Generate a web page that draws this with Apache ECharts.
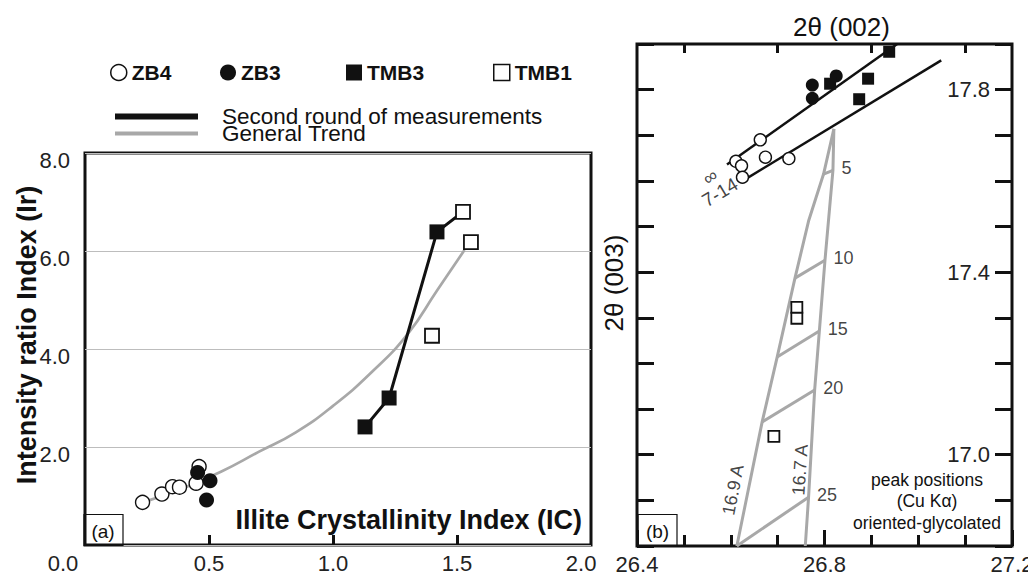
<!DOCTYPE html>
<html>
<head>
<meta charset="utf-8">
<script src="https://cdn.jsdelivr.net/npm/echarts@6/dist/echarts.min.js"></script>
<style>
  html, body { margin: 0; padding: 0; background: #fff; }
  #chart { width: 1028px; height: 577px; }
</style>
</head>
<body>
<div id="chart"></div>
<script>
// ---------- Panel (a): Illite Crystallinity Index (IC) vs Intensity ratio Index (Ir) ----------
const zb4IC   = [[0.232, 0.87], [0.310, 1.04], [0.353, 1.19], [0.381, 1.18], [0.448, 1.26], [0.460, 1.60]];
const zb3IC   = [[0.454, 1.48], [0.504, 1.31], [0.490, 0.92]];
const tmb3IC  = [[1.129, 2.41], [1.226, 3.00], [1.419, 6.39]];
const tmb1IC  = [[1.524, 6.80], [1.556, 6.18], [1.399, 4.27]];
const secondRoundIC = [[1.129, 2.41], [1.226, 3.00], [1.419, 6.39], [1.524, 6.80]];
const trendIC = [[0.24, 0.88], [0.40, 1.17], [0.55, 1.50], [0.70, 1.90], [0.85, 2.30], [1.00, 2.84],
                 [1.15, 3.50], [1.30, 4.30], [1.42, 5.20], [1.53, 6.02]];
const icTickLabels = [0, 0.5, 1.0, 1.5, 2.0];
const irTickLabels = [2, 4, 6, 8];

// ---------- Panel (b): peak positions 2θ(002) vs 2θ(003) ----------
const zb4Peak  = [[26.663, 17.690], [26.611, 17.643], [26.623, 17.633], [26.625, 17.608], [26.674, 17.652], [26.724, 17.649]];
const zb3Peak  = [[26.774, 17.810], [26.774, 17.781], [26.825, 17.830]];
const tmb3Peak = [[26.812, 17.813], [26.893, 17.824], [26.874, 17.779], [26.938, 17.883]];
const tmb1Peak = [[26.741, 17.323], [26.741, 17.299], [26.692, 17.040]];
const lineInf  = [[26.592, 17.636], [26.955, 17.900]];
const line714  = [[26.622, 17.598], [27.049, 17.864]];
const curve169 = [[26.820, 17.714], [26.798, 17.615], [26.766, 17.512], [26.737, 17.387],
                  [26.699, 17.214], [26.667, 17.072], [26.613, 16.800]];
const curve167 = [[26.820, 17.714], [26.818, 17.623], [26.801, 17.426], [26.789, 17.271],
                  [26.779, 17.142], [26.766, 16.907], [26.759, 16.800]];
const rungNames = ['5', '10', '15', '20', '25'];
const rungLeft  = [[26.798, 17.615], [26.737, 17.387], [26.699, 17.214], [26.667, 17.072], [26.613, 16.800]];
const rungRight = [[26.818, 17.623], [26.801, 17.426], [26.789, 17.271], [26.779, 17.142], [26.766, 16.907]];
const curveNames  = ['16.9 A', '16.7 A'];
const curveNameAt = [[26.605, 16.923], [26.748, 16.967]];
const curveNameAngle = [79, 86];
const lineNames  = ['\u221E', '7-14'];
const lineNameAt = [[26.556, 17.609], [26.577, 17.575]];
const lineNameAngle = [35, 31];
const peakLabels = [26.4, 26.8, 27.2];
const peakRightLabels = [17.0, 17.4, 17.8];

// ---------- styling ----------
const FONT = '"Liberation Sans", Arial, Helvetica, sans-serif';
const INK = '#111';
const LABEL = '#222';
const GREY = '#a8a8a8';
const fmt1 = v => Number(v).toFixed(1);
const tickStyle = { color: INK, width: 3 };

const openCircle = size => ({ symbol: 'circle', symbolSize: size, itemStyle: { color: '#fff', borderColor: INK, borderWidth: 1.4, opacity: 1 } });
const fullCircle = size => ({ symbol: 'circle', symbolSize: size, itemStyle: { color: INK, opacity: 1 } });
const fullSquare = size => ({ symbol: 'rect', symbolSize: size, itemStyle: { color: INK, opacity: 1 } });
const openSquare = size => ({ symbol: 'rect', symbolSize: size, itemStyle: { color: '#fff', borderColor: INK, borderWidth: 1.8, opacity: 1 } });

const scatterA = (name, data, look) => Object.assign({ type: 'scatter', name, data, xAxisIndex: 0, yAxisIndex: 0, z: 5 }, look);
const scatterB = (name, data, look) => Object.assign({ type: 'scatter', name, data, xAxisIndex: 1, yAxisIndex: 1, z: 5 }, look);
const greyLineB = (name, data) => ({
  type: 'line', name, data, xAxisIndex: 1, yAxisIndex: 1, symbol: 'none', z: 2,
  color: GREY, lineStyle: { color: GREY, width: 3 }
});

const symbolLegend = (name, icon, left, itemStyle) => ({
  data: [{ name, icon, itemStyle }], left, top: 62, padding: 0, selectedMode: false,
  itemWidth: 16, itemHeight: 16,
  textStyle: { fontSize: 21, fontWeight: 'bold', color: INK, fontFamily: FONT }
});
const lineLegend = (name, color, top, thick) => ({
  data: [{ name, icon: 'rect', itemStyle: { color } }], left: 115, top, padding: 0, selectedMode: false,
  itemWidth: 83, itemHeight: thick,
  textStyle: { fontSize: 22.5, lineHeight: 17, color: INK, fontFamily: FONT, padding: [0, 0, 0, 19] }
});

const chart = echarts.init(document.getElementById('chart'), null, { renderer: 'svg' });

const option = {
  animation: false,
  backgroundColor: '#fff',
  textStyle: { fontFamily: FONT, color: INK },
  legend: [
    symbolLegend('ZB4', 'circle', 110, { color: '#fff', borderColor: INK, borderWidth: 1.5, opacity: 1 }),
    symbolLegend('ZB3', 'circle', 220, { color: INK, opacity: 1 }),
    symbolLegend('TMB3', 'rect', 346, { color: INK, opacity: 1 }),
    symbolLegend('TMB1', 'rect', 493, { color: '#fff', borderColor: INK, borderWidth: 1.5, opacity: 1 }),
    lineLegend('Second round of measurements', INK, 105, 6),
    lineLegend('General Trend', GREY, 122, 4)
  ],
  grid: [
    { left: 85, top: 153, width: 506, height: 392, show: true, borderColor: INK, borderWidth: 3, outerBoundsMode: 'none' },
    { left: 637, top: 44, width: 375, height: 502, show: true, borderColor: INK, borderWidth: 3, outerBoundsMode: 'none' }
  ],
  xAxis: [
    { // (a) IC axis
      type: 'value', gridIndex: 0, position: 'bottom', min: 0, max: 2.04,
      axisLine: { show: false, onZero: false },
      axisTick: { show: true, inside: true, length: 10, lineStyle: tickStyle, customValues: [0.5, 1.0, 1.5] },
      axisLabel: {
        customValues: icTickLabels, margin: 7, fontSize: 22, color: LABEL,
        formatter: v => (v === 0 ? '{o|0.0}' : fmt1(v)),
        rich: { o: { fontSize: 22, color: LABEL, padding: [0, 44, 0, 0] } }
      },
      splitLine: { show: false },
      name: 'Illite Crystallinity Index (IC)', nameLocation: 'end', nameGap: -9, nameMoveOverlap: false,
      nameTextStyle: { fontSize: 27, fontWeight: 'bold', color: INK, align: 'right', verticalAlign: 'bottom', padding: [0, 0, 12, 0] }
    },
    { // (b) 2θ(002), bottom labels
      type: 'value', gridIndex: 1, position: 'bottom', min: 26.4, max: 27.2, interval: 0.4,
      axisLine: { show: false, onZero: false },
      axisTick: { show: true, inside: true, length: 16, lineStyle: tickStyle },
      minorTick: { show: true, splitNumber: 4, length: 11, lineStyle: tickStyle },
      axisLabel: { customValues: peakLabels, margin: 7, fontSize: 22, color: LABEL, formatter: fmt1 },
      splitLine: { show: false }, minorSplitLine: { show: false }
    },
    { // (b) 2θ(002), top frame
      type: 'value', gridIndex: 1, position: 'top', min: 26.4, max: 27.2, interval: 0.1,
      axisLine: { show: false, onZero: false },
      axisTick: { show: true, inside: true, length: 9, lineStyle: tickStyle, customValues: [26.5, 26.7, 26.9, 27.1] },
      axisLabel: { show: false },
      splitLine: { show: false },
      name: '2\u03B8 (002)', nameLocation: 'middle', nameGap: 4, nameMoveOverlap: false,
      nameTextStyle: { fontSize: 26, color: INK, padding: [0, 0, 0, 34] }
    }
  ],
  yAxis: [
    { // (a) Ir axis
      type: 'value', gridIndex: 0, position: 'left', min: 0, max: 8, interval: 2,
      axisLine: { show: false, onZero: false },
      axisTick: { show: false },
      axisLabel: {
        customValues: irTickLabels, margin: 15, fontSize: 22, color: LABEL,
        formatter: v => '{v|' + fmt1(v) + '}',
        rich: { v: { fontSize: 22, color: LABEL, padding: [14, 0, 0, 0] } }
      },
      splitLine: { show: true, lineStyle: { color: '#bdbdbd', width: 1 } },
      name: 'Intensity ratio Index (Ir)', nameLocation: 'middle', nameGap: 45, nameRotate: 90, nameMoveOverlap: false,
      nameTextStyle: { fontSize: 27, fontWeight: 'bold', color: INK, padding: [0, 0, 0, 28] }
    },
    { // (b) 2θ(003), left frame
      type: 'value', gridIndex: 1, position: 'left', min: 16.8, max: 17.9, interval: 0.1,
      axisLine: { show: false, onZero: false },
      axisTick: { show: true, inside: true, length: 17, lineStyle: tickStyle },
      axisLabel: { show: false },
      splitLine: { show: false },
      name: '2\u03B8 (003)', nameLocation: 'middle', nameGap: 10, nameRotate: 90, nameMoveOverlap: false,
      nameTextStyle: { fontSize: 26, color: INK, padding: [0, 0, 0, 24] }
    },
    { // (b) 2θ(003), right labels
      type: 'value', gridIndex: 1, position: 'right', min: 16.8, max: 17.9, interval: 0.1,
      axisLine: { show: false, onZero: false },
      axisTick: { show: true, inside: true, length: 17, lineStyle: tickStyle },
      axisLabel: { inside: true, margin: 22, customValues: peakRightLabels, fontSize: 22, color: LABEL, formatter: fmt1 },
      splitLine: { show: false }
    }
  ],
  series: [
    // panel (a)
    { type: 'line', name: 'General Trend', data: trendIC, xAxisIndex: 0, yAxisIndex: 0, symbol: 'none',
      smooth: 0.5, color: GREY, lineStyle: { color: GREY, width: 2.7 }, z: 2 },
    { type: 'line', name: 'Second round of measurements', data: secondRoundIC, xAxisIndex: 0, yAxisIndex: 0,
      symbol: 'none', color: INK, lineStyle: { color: INK, width: 3 }, z: 3 },
    scatterA('ZB4', zb4IC, openCircle(14)),
    scatterA('ZB3', zb3IC, fullCircle(15)),
    scatterA('TMB3', tmb3IC, fullSquare(15)),
    scatterA('TMB1', tmb1IC, openSquare(14)),

    // panel (b): layer ladder
    greyLineB('16.9 A', curve169),
    greyLineB('16.7 A', curve167),
    ...rungNames.map((n, i) => greyLineB('N = ' + n, [rungLeft[i], rungRight[i]])),
    { type: 'scatter', name: 'ladder numbers', xAxisIndex: 1, yAxisIndex: 1, silent: true, z: 4,
      symbolSize: 1, itemStyle: { color: 'rgba(0,0,0,0)' },
      data: rungRight.map((p, i) => ({ name: rungNames[i], value: p })),
      label: { show: true, position: 'right', distance: 8, offset: [0, -2], formatter: '{b}', fontSize: 18, color: INK } },
    { type: 'scatter', name: 'ladder names', xAxisIndex: 1, yAxisIndex: 1, silent: true, z: 4,
      symbolSize: 1, itemStyle: { color: 'rgba(0,0,0,0)' },
      data: curveNameAt.map((p, i) => ({ name: curveNames[i], value: p, label: { rotate: curveNameAngle[i] } })),
      label: { show: true, position: 'inside', formatter: '{b}', fontSize: 18, color: INK } },

    // panel (b): fitted lines
    { type: 'line', name: lineNames[0], data: lineInf, xAxisIndex: 1, yAxisIndex: 1, symbol: 'none',
      color: INK, lineStyle: { color: INK, width: 2.5 }, z: 3 },
    { type: 'line', name: lineNames[1], data: line714, xAxisIndex: 1, yAxisIndex: 1, symbol: 'none',
      color: INK, lineStyle: { color: INK, width: 2.5 }, z: 3 },
    { type: 'scatter', name: 'line names', xAxisIndex: 1, yAxisIndex: 1, silent: true, z: 4,
      symbolSize: 1, itemStyle: { color: 'rgba(0,0,0,0)' },
      data: lineNameAt.map((p, i) => ({ name: lineNames[i], value: p, label: { rotate: lineNameAngle[i] } })),
      label: { show: true, position: 'inside', formatter: '{b}', fontSize: 19, color: INK } },

    // panel (b): samples
    scatterB('ZB4', zb4Peak, openCircle(12)),
    scatterB('ZB3', zb3Peak, fullCircle(13)),
    scatterB('TMB3', tmb3Peak, fullSquare(12)),
    scatterB('TMB1', tmb1Peak, openSquare(11))
  ],
  graphic: [
    { type: 'rect', shape: { x: 84, y: 514.5, width: 39, height: 31 }, style: { fill: 'none', stroke: INK, lineWidth: 1.2 }, z: 10 },
    { type: 'text', x: 103, y: 531, style: { text: '(a)', fontSize: 19, fontFamily: FONT, fill: INK, align: 'center', verticalAlign: 'middle' }, z: 10 },
    { type: 'rect', shape: { x: 638, y: 514.5, width: 39, height: 31 }, style: { fill: 'none', stroke: INK, lineWidth: 1.2 }, z: 10 },
    { type: 'text', x: 657.5, y: 531, style: { text: '(b)', fontSize: 19, fontFamily: FONT, fill: INK, align: 'center', verticalAlign: 'middle' }, z: 10 },
    { type: 'text', x: 927, y: 501, style: {
        text: 'peak positions\n(Cu K\u03B1)\noriented-glycolated', fontSize: 17.5, lineHeight: 21.5,
        fontFamily: FONT, fill: INK, align: 'center', verticalAlign: 'middle' }, z: 10 }
  ]
};

chart.setOption(option);
</script>
</body>
</html>
